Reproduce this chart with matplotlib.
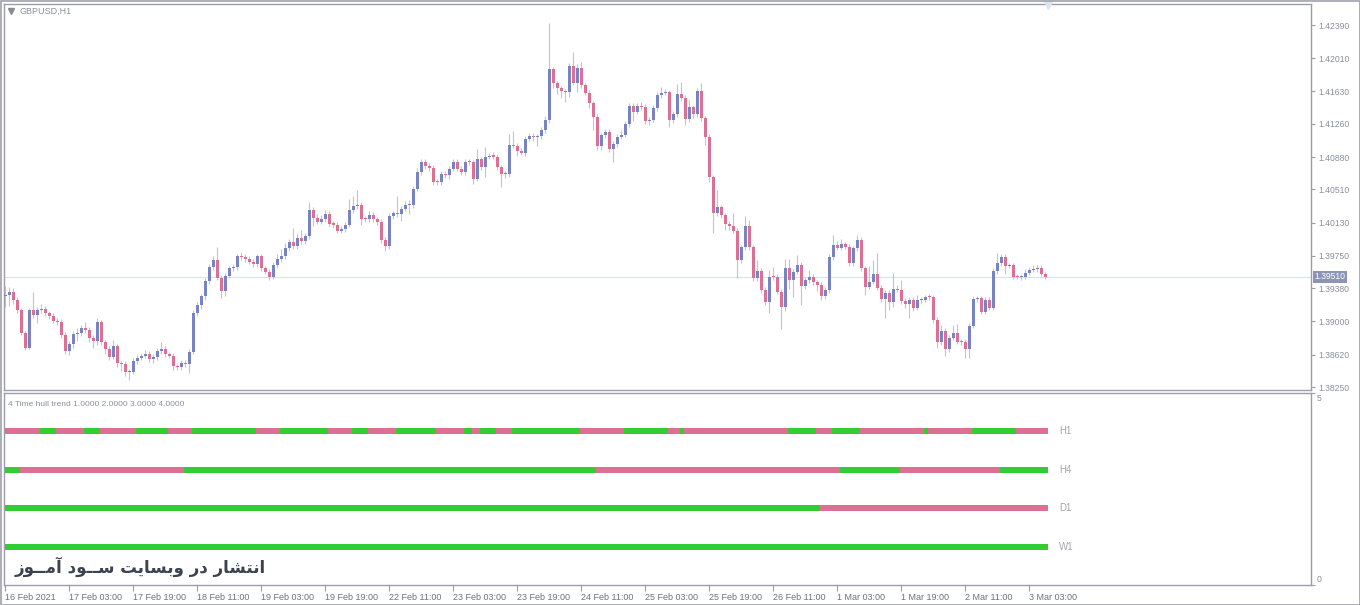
import numpy as np
import matplotlib
matplotlib.use("Agg")
import matplotlib.pyplot as plt
from matplotlib import font_manager
from matplotlib.patches import Rectangle
import matplotlib.transforms as mtransforms

# GBPUSD H1 closes, one per bar (16 Feb 2021 11:00 .. 3 Mar 2021 07:00)
first_open = 1.39290
closes = [
    1.39302, 1.39333, 1.39245, 1.39131, 1.38871, 1.38700, 1.39131, 1.39074, 1.39131, 1.39142,
    1.39093, 1.39066, 1.39008, 1.38997, 1.38845, 1.38662, 1.38745, 1.38860, 1.38868, 1.38921,
    1.38902, 1.38814, 1.38776, 1.38990, 1.38761, 1.38685, 1.38597, 1.38716, 1.38521, 1.38517,
    1.38418, 1.38425, 1.38548, 1.38585, 1.38608, 1.38631, 1.38570, 1.38593, 1.38662, 1.38685,
    1.38624, 1.38608, 1.38487, 1.38479, 1.38525, 1.38517, 1.38654, 1.39096, 1.39188, 1.39287,
    1.39462, 1.39623, 1.39706, 1.39500, 1.39348, 1.39523, 1.39608, 1.39623, 1.39745, 1.39737,
    1.39714, 1.39683, 1.39653, 1.39745, 1.39608, 1.39569, 1.39512, 1.39645, 1.39711, 1.39748,
    1.39836, 1.39908, 1.39863, 1.39951, 1.39920, 1.39977, 1.40274, 1.40186, 1.40141, 1.40168,
    1.40229, 1.40114, 1.40108, 1.40038, 1.40054, 1.40106, 1.40274, 1.40320, 1.40335, 1.40175,
    1.40171, 1.40217, 1.40168, 1.40137, 1.39931, 1.39863, 1.40206, 1.40243, 1.40229, 1.40289,
    1.40328, 1.40332, 1.40518, 1.40709, 1.40823, 1.40778, 1.40755, 1.40598, 1.40595, 1.40686,
    1.40675, 1.40747, 1.40823, 1.40747, 1.40709, 1.40823, 1.40820, 1.40632, 1.40854, 1.40763,
    1.40884, 1.40892, 1.40886, 1.40763, 1.40683, 1.40686, 1.41018, 1.41010, 1.40949, 1.40930,
    1.41090, 1.41121, 1.41113, 1.41115, 1.41189, 1.41304, 1.41883, 1.41723, 1.41666, 1.41632,
    1.41627, 1.41921, 1.41730, 1.41895, 1.41700, 1.41616, 1.41495, 1.41341, 1.41006, 1.41129,
    1.41166, 1.40969, 1.41029, 1.41113, 1.41135, 1.41258, 1.41464, 1.41399, 1.41464, 1.41452,
    1.41296, 1.41307, 1.41441, 1.41590, 1.41616, 1.41620, 1.41304, 1.41372, 1.41601, 1.41555,
    1.41315, 1.41449, 1.41372, 1.41639, 1.41323, 1.41113, 1.40648, 1.40237, 1.40305, 1.40214,
    1.40114, 1.40091, 1.40038, 1.39703, 1.39848, 1.40091, 1.39848, 1.39493, 1.39580, 1.39360,
    1.39226, 1.39512, 1.39508, 1.39340, 1.39169, 1.39611, 1.39474, 1.39569, 1.39645, 1.39409,
    1.39474, 1.39512, 1.39448, 1.39417, 1.39291, 1.39360, 1.39737, 1.39874, 1.39843, 1.39882,
    1.39855, 1.39665, 1.39836, 1.39931, 1.39608, 1.39397, 1.39454, 1.39539, 1.39386, 1.39257,
    1.39325, 1.39219, 1.39371, 1.39363, 1.39234, 1.39196, 1.39245, 1.39157, 1.39242, 1.39248,
    1.39279, 1.39276, 1.39016, 1.38761, 1.38891, 1.38685, 1.38814, 1.38864, 1.38768, 1.38764,
    1.38685, 1.38951, 1.39257, 1.39265, 1.39111, 1.39245, 1.39157, 1.39577, 1.39668, 1.39737,
    1.39637, 1.39642, 1.39512, 1.39508, 1.39512, 1.39557, 1.39592, 1.39600, 1.39611, 1.39546,
    1.39510,
]

# wick lengths above / below the body, in pips
wick_up = [
    10, 6, 5, 3, 2, 2, 2, 20, 3, 6,
    3, 3, 3, 3, 3, 3, 3, 3, 6, 4,
    7, 3, 3, 5, 3, 3, 3, 7, 3, 3,
    3, 3, 3, 3, 3, 4, 3, 3, 3, 8,
    3, 3, 3, 3, 3, 3, 3, 3, 3, 3,
    3, 3, 4, 15, 3, 3, 3, 3, 3, 5,
    3, 3, 3, 3, 3, 3, 3, 3, 6, 8,
    6, 4, 16, 5, 9, 3, 9, 3, 4, 5,
    4, 3, 3, 3, 4, 3, 13, 11, 17, 3,
    3, 5, 3, 3, 3, 3, 3, 2, 19, 3,
    5, 6, 3, 5, 3, 3, 3, 3, 3, 3,
    3, 3, 3, 3, 3, 3, 3, 3, 12, 3,
    11, 3, 5, 3, 3, 3, 12, 16, 3, 3,
    3, 3, 3, 3, 3, 4, 53, 3, 3, 3,
    3, 3, 16, 5, 7, 3, 3, 3, 3, 3,
    3, 3, 3, 3, 5, 3, 3, 3, 3, 5,
    3, 3, 3, 3, 7, 4, 3, 3, 12, 14,
    3, 8, 3, 3, 9, 3, 3, 3, 20, 3,
    3, 3, 15, 3, 3, 12, 7, 3, 12, 3,
    3, 8, 11, 3, 3, 10, 10, 3, 12, 3,
    3, 8, 3, 3, 3, 3, 3, 12, 5, 6,
    3, 3, 3, 6, 3, 3, 18, 16, 24, 3,
    3, 3, 18, 5, 11, 3, 3, 3, 6, 3,
    2, 3, 3, 3, 7, 3, 3, 9, 11, 3,
    3, 3, 3, 3, 3, 4, 4, 3, 12, 3,
    3, 3, 3, 3, 3, 4, 3, 4, 3, 3,
    2,
]
wick_dn = [
    12, 12, 4, 4, 3, 3, 2, 3, 9, 3,
    3, 4, 3, 4, 3, 3, 5, 5, 8, 4,
    3, 5, 8, 4, 3, 6, 4, 3, 4, 8,
    4, 9, 3, 3, 3, 3, 3, 4, 3, 3,
    3, 3, 4, 3, 3, 4, 11, 3, 3, 5,
    4, 3, 3, 3, 8, 6, 3, 3, 3, 3,
    3, 3, 3, 3, 3, 3, 4, 3, 3, 3,
    3, 3, 3, 3, 3, 3, 3, 10, 3, 3,
    3, 3, 4, 3, 3, 3, 3, 3, 3, 7,
    3, 3, 3, 3, 3, 6, 3, 3, 3, 8,
    3, 10, 3, 3, 3, 3, 3, 4, 4, 4,
    3, 5, 3, 3, 3, 3, 3, 6, 3, 3,
    11, 3, 3, 3, 14, 4, 3, 3, 6, 3,
    4, 3, 5, 11, 3, 3, 3, 5, 6, 8,
    12, 6, 3, 11, 3, 3, 5, 15, 4, 5,
    3, 3, 14, 3, 3, 3, 3, 11, 3, 3,
    4, 5, 3, 3, 3, 3, 8, 3, 3, 3,
    7, 3, 4, 3, 3, 10, 5, 23, 3, 3,
    7, 4, 3, 21, 3, 3, 3, 3, 3, 4,
    4, 13, 3, 3, 25, 5, 10, 20, 3, 22,
    4, 3, 3, 7, 5, 3, 3, 3, 3, 3,
    3, 3, 3, 3, 3, 9, 3, 3, 3, 3,
    22, 9, 5, 3, 3, 4, 16, 4, 3, 3,
    3, 3, 3, 7, 3, 8, 3, 3, 3, 3,
    10, 10, 3, 3, 3, 3, 3, 3, 3, 3,
    10, 3, 3, 2, 3, 3, 3, 3, 3, 3,
    2,
]

last_price = 1.39510
price_ticks = [1.42390, 1.42010, 1.41630, 1.41260, 1.40880, 1.40510, 1.40130,
               1.39750, 1.39380, 1.39000, 1.38620, 1.38250]

time_bars = [0, 16, 32, 48, 64, 80, 96, 112, 128, 144, 160, 176, 192, 208, 224, 240, 256]
time_labels = ["16 Feb 2021", "17 Feb 03:00", "17 Feb 19:00", "18 Feb 11:00", "19 Feb 03:00",
               "19 Feb 19:00", "22 Feb 11:00", "23 Feb 03:00", "23 Feb 19:00", "24 Feb 11:00",
               "25 Feb 03:00", "25 Feb 19:00", "26 Feb 11:00", "1 Mar 03:00", "1 Mar 19:00",
               "2 Mar 11:00", "3 Mar 03:00"]

# hull trend per timeframe: bar where each run starts, +1 up / -1 down
rows = ["H1", "H4", "D1", "W1"]
row_levels = [4, 3, 2, 1]
h1_starts = [0, 9, 13, 20, 24, 33, 41, 47, 63, 69, 81, 87, 91, 98, 108, 115, 117,
             119, 123, 127, 144, 155, 166, 169, 170, 196, 203, 207, 214, 230, 231, 242, 253]
h1_trend = [-1, 1, -1, 1, -1, 1, -1, 1, -1, 1, -1, 1, -1, 1, -1, 1, -1,
            1, -1, 1, -1, 1, -1, 1, -1, 1, -1, 1, -1, 1, -1, 1, -1]
h4_starts = [0, 4, 45, 148, 209, 224, 249]
h4_trend = [1, -1, 1, -1, 1, -1, 1]
d1_starts = [0, 204]
d1_trend = [1, -1]
w1_starts = [0]
w1_trend = [1]

indicator_name = "4 Time hull trend 1.0000 2.0000 3.0000 4.0000"
watermark = ("\ufeaf\ufeee\u0640\u0640\ufee3\ufe81 "
             "\ufea9\ufeee\u0640\u0640\ufeb3 "
             "\ufe96\ufef3\ufe8e\ufeb4\ufe91\ufeed "
             "\ufead\ufea9 "
             "\ufead\ufe8e\ufeb8\ufe98\ufee7\ufe8d")

bull_col = "#7883c4"
bear_col = "#db7093"
up_col = "#32cd32"
wick_col = "#c4c4cc"
axis_col = "#9c9cac"
text_col = "#8a8f9c"

avail = {f.name for f in font_manager.fontManager.ttflist}
ui_font = "Liberation Sans" if "Liberation Sans" in avail else "DejaVu Sans"
plt.rcParams['font.family'] = [ui_font, 'DejaVu Sans']

W, H = 1360, 605
fig = plt.figure(figsize=(W / 100, H / 100), dpi=100)
fig.patch.set_facecolor("white")


def box(x0, y0, x1, y1):
    return [x0 / W, 1 - y1 / H, (x1 - x0) / W, (y1 - y0) / H]


ax = fig.add_axes(box(4, 4, 1311, 390))
ax2 = fig.add_axes(box(4, 393, 1311, 585))

n = len(closes)
x = np.arange(n)
c = np.array(closes)
o = np.array([first_open] + closes[:-1])
top = np.maximum(o, c)
bot = np.minimum(o, c)
hi = top + np.array(wick_up) * 0.0001
lo = bot - np.array(wick_dn) * 0.0001
colors = np.where(c >= o, bull_col, bear_col)

ax.axhline(last_price, color="#d8e2ec", lw=0.8, zorder=1)
ax.vlines(x, lo, hi, color=wick_col, lw=0.8, zorder=2)
ax.bar(x, np.maximum(top - bot, 0.00013), bottom=bot, width=0.75,
       color=colors, linewidth=0, zorder=3)

ax.set_xlim(-0.25, 326.5)
ax.set_ylim(1.382159, 1.426302)
ax.set_xticks([])
ax.yaxis.tick_right()
ax.set_yticks(price_ticks, [f"{p:.5f}" for p in price_ticks])
ax.tick_params(axis="y", length=3, width=0.8, color=axis_col, labelcolor=text_col,
               labelsize=6.2, pad=2)

blend = mtransforms.blended_transform_factory(ax.transAxes, ax.transData)
ax.text(1.0025, last_price, f"{last_price:.5f}", transform=blend, va="center", ha="left",
        fontsize=6.2, color="white",
        bbox=dict(boxstyle="square,pad=0.15", fc="#8c95b4", ec="none"), zorder=5)

ax.plot([11 / W], [1 - 11 / H], marker="v", ms=4, color="#8a8a96",
        transform=fig.transFigure, clip_on=False)
fig.text(20 / W, 1 - 11.5 / H, "GBPUSD,H1", fontsize=6.5, color=text_col, va="center")
ax.plot([260.75], [1.4262], marker="v", ms=6, color="#dde6ee", clip_on=False, zorder=4)

# indicator panel
row_data = [(h1_starts, h1_trend), (h4_starts, h4_trend), (d1_starts, d1_trend), (w1_starts, w1_trend)]
end_bar = n - 1 + 0.75
for name, level, (starts, trend) in zip(rows, row_levels, row_data):
    ends = starts[1:] + [end_bar + 0.25]
    segs = [(s - 0.25, e - s) for s, e in zip(starts, ends)]
    cols = [up_col if t > 0 else bear_col for t in trend]
    ax2.broken_barh(segs, (level - 0.08, 0.16), facecolors=cols, linewidth=0)
    ax2.text(263.6, level, name, va="center", ha="left", fontsize=7, color="#a4a4ac")

ax2.set_xlim(-0.25, 326.5)
ax2.set_ylim(0, 5)
ax2.yaxis.tick_right()
ax2.set_yticks([0, 5], ["", ""])
ax2.tick_params(axis="y", length=3, width=0.8, color=axis_col)
blend2 = mtransforms.blended_transform_factory(ax2.transAxes, ax2.transData)
ax2.text(1.004, 4.97, "5", transform=blend2, va="top", fontsize=6.2, color=text_col)
ax2.text(1.004, 0.03, "0", transform=blend2, va="bottom", fontsize=6.2, color=text_col)
ax2.text(4 / 1307, 0.96, indicator_name, transform=ax2.transAxes, va="top", ha="left",
         fontsize=6, color=text_col)

ax2.set_xticks(time_bars, time_labels)
ax2.tick_params(axis="x", length=4, width=0.8, color=axis_col, labelcolor="#6c7282",
                labelsize=6.5, pad=1.5)
for lab in ax2.get_xticklabels():
    lab.set_ha("left")

fig.text(15 / W, 1 - 567 / H, watermark, family="DejaVu Sans", weight="bold",
         fontsize=12, color="#3c4250", va="center", ha="left")

for a in (ax, ax2):
    for sp in a.spines.values():
        sp.set_color(axis_col)
        sp.set_linewidth(1.0)

fig.add_artist(Rectangle((0.5 / W, 0.5 / H), 1 - 1 / W, 1 - 1 / H, transform=fig.transFigure,
                         fill=False, edgecolor="#a0a0aa", lw=1.2))

fig.savefig("out.png", dpi=100)
